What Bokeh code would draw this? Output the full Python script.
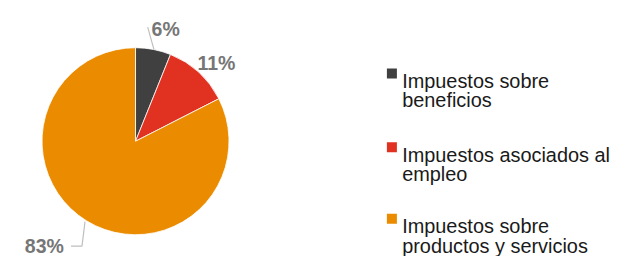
import math
from bokeh.plotting import figure
from bokeh.models import Range1d, ColumnDataSource
from bokeh.core.properties import value
from bokeh.embed import file_html
from bokeh.resources import INLINE

# ---- data ----
categories = ["Impuestos sobre\nbeneficios",
              "Impuestos asociados al\nempleo",
              "Impuestos sobre\nproductos y servicios"]
shares = [6.1, 11.4, 82.5]
share_labels = ["6%", "11%", "83%"]
colors = ["#404040", "#E03121", "#EB8C00"]

W, H = 620, 256
p = figure(width=W, height=H, x_range=Range1d(0, W), y_range=Range1d(0, H),
           output_backend="svg", toolbar_location=None, min_border=0)
p.axis.visible = False
p.grid.visible = False
p.outline_line_color = None
p.background_fill_color = "white"
p.border_fill_color = "white"

# layout designed on a 636x272 canvas, scaled into the figure
SX, SY = W / 636, H / 272
S = 0.95
def X(px):
    return px * SX
def Y(py):
    return H - py * SY

cx, cy, r = X(138.5), Y(149.5), 93.5
total = sum(shares)
starts, ends = [], []
acc = 0.0
for v in shares:
    starts.append(math.pi / 2 - 2 * math.pi * acc / total)
    acc += v
    ends.append(math.pi / 2 - 2 * math.pi * acc / total)

src = ColumnDataSource(dict(start=starts, end=ends, color=colors))
p.wedge(x=cx, y=cy, radius=r, start_angle="start", end_angle="end",
        direction="clock", fill_color="color", line_color="white",
        line_width=0.8, source=src)

# leader lines
lead = "#BFBFBF"
p.line([X(151), X(157.3)], [Y(28.3), Y(51.7)], line_color=lead, line_width=1.2)
p.line([X(86.7), X(83.6), X(72.3)], [Y(235), Y(261), Y(261)],
       line_color=lead, line_width=1.2)

# percentage labels
lab_x = [X(155), X(202), X(25)]
lab_y = [Y(30), Y(66.5), Y(260.5)]
p.text(x=lab_x, y=lab_y, text=share_labels, text_font=value("Liberation Sans"),
       text_font_size=f"{20.5 * S:.1f}px", text_font_style="bold",
       text_color="#767676", text_align="left", text_baseline="alphabetic")

# legend (manual)
leg_sq_x = X(401.5)
leg_first_baseline = [85.5, 164, 240]
line_gap = 20.5
sq_y = [Y(b - 8) for b in leg_first_baseline]
p.scatter(x=[leg_sq_x] * 3, y=sq_y, marker="square", size=10,
          fill_color=colors, line_color=None)
l1 = [c.split("\n")[0] for c in categories]
l2 = [c.split("\n")[1] for c in categories]
tx = [X(412)] * 3
fs = f"{21 * S:.1f}px"
p.text(x=tx, y=[Y(b) for b in leg_first_baseline], text=l1,
       text_font=value("Liberation Sans"), text_font_size=fs,
       text_color="#1A1A1A", text_align="left", text_baseline="alphabetic")
p.text(x=tx, y=[Y(b + line_gap) for b in leg_first_baseline], text=l2,
       text_font=value("Liberation Sans"), text_font_size=fs,
       text_color="#1A1A1A", text_align="left", text_baseline="alphabetic")

open("out.html", "w").write(file_html(p, INLINE))
